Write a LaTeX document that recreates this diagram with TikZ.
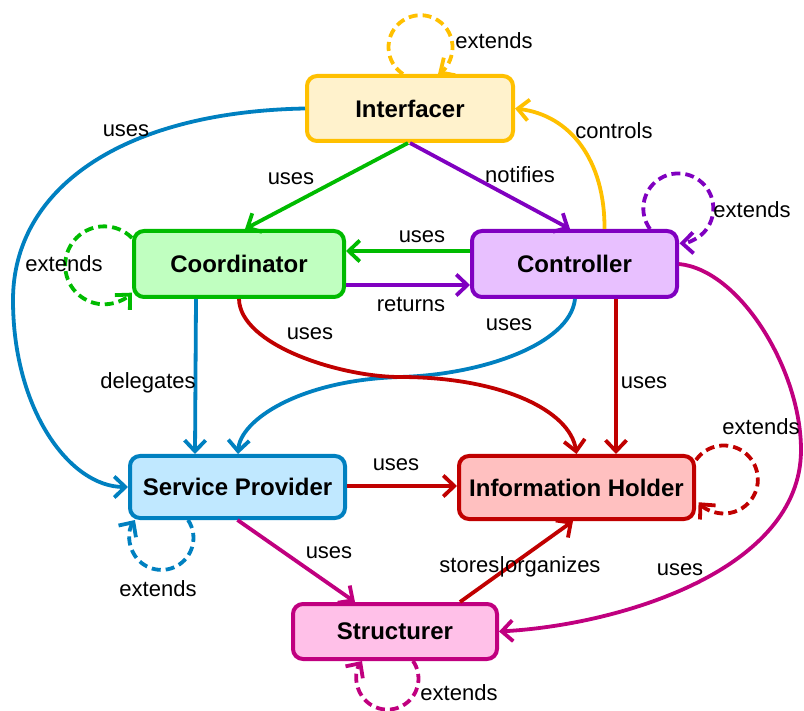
\documentclass[tikz,border=0pt]{standalone}
\usepackage{fontspec}
\setmainfont{Liberation Sans}
\usetikzlibrary{arrows.meta,calc}

\definecolor{goldE}{HTML}{FFC000}\definecolor{goldF}{HTML}{FFF2CC}
\definecolor{greenE}{HTML}{00BB00}\definecolor{greenF}{HTML}{C0FFC0}
\definecolor{purpE}{HTML}{8000C0}\definecolor{purpF}{HTML}{E8C0FF}
\definecolor{blueE}{HTML}{0080C0}\definecolor{blueF}{HTML}{C0E8FF}
\definecolor{redE}{HTML}{C00000}\definecolor{redF}{HTML}{FFC0C0}
\definecolor{magE}{HTML}{C0007F}\definecolor{magF}{HTML}{FFC0E8}

\begin{document}
\begin{tikzpicture}[x=1pt,y=1pt,
  role/.style={draw, line width=4pt, rounded corners=10pt, inner sep=0pt,
    font=\fontsize{24}{28}\selectfont\bfseries},
  rel/.style={line width=3.8pt,
    -{Straight Barb[length=11pt,width=21pt,line width=3.8pt]}},
  ext/.style={rel, dash pattern=on 9pt off 5pt},
  lbl/.style={font=\fontsize{22}{26}\selectfont, inner sep=0pt}]
\useasboundingbox (0,0) rectangle (804,-711);

% roles
\node[role, draw=goldE,  fill=goldF,  minimum width=206pt, minimum height=65pt] (I)  at (410,-108.5) {Interfacer};
\node[role, draw=greenE, fill=greenF, minimum width=210pt, minimum height=66pt] (Co) at (239,-264) {Coordinator};
\node[role, draw=purpE,  fill=purpF,  minimum width=205pt, minimum height=66pt] (Ct) at (574.5,-264) {Controller};
\node[role, draw=blueE,  fill=blueF,  minimum width=215pt, minimum height=62pt] (SP) at (237.5,-487) {Service Provider};
\node[role, draw=redE,   fill=redF,   minimum width=235pt, minimum height=63pt] (IH) at (576.5,-487.5) {Information Holder};
\node[role, draw=magE,   fill=magF,   minimum width=204pt, minimum height=55pt] (St) at (395,-631.5) {Structurer};

% relations
\draw[rel,greenE] ($(I.south)+(-2,0)$) -- ($(Co.north)+(6,0)$);
\draw[rel,purpE] (I.south) -- ($(Ct.north)+(-4.5,0)$);
\draw[rel,goldE] ($(Ct.north)+(30,0)$) .. controls (605,-160) and (570,-115) .. (I.east);
\draw[rel,greenE] ($(Ct.west)+(0,13)$) -- ($(Co.east)+(0,13)$);
\draw[rel,purpE] ($(Co.east)+(0,-21)$) -- ($(Ct.west)+(0,-21)$);
\draw[rel,blueE] (I.west) .. controls (120,-112) and (13,-190) .. (13,-300)
  .. controls (13,-410) and (70,-487) .. (SP.west);
\draw[rel,blueE] ($(Co.south)+(-43,0)$) -- ($(SP.north)+(-42.5,0)$);
\draw[rel,blueE] ($(Ct.south)+(0.5,0)$) .. controls (570,-345) and (480,-375) .. (400,-377)
  .. controls (300,-380) and (240,-420) .. ($(SP.north)+(0.5,0)$);
\draw[rel,redE] (Co.south) .. controls (240,-345) and (340,-377) .. (400,-377)
  .. controls (500,-377) and (570,-410) .. (IH.north);
\draw[rel,redE] ($(Ct.south)+(41.5,0)$) -- ($(IH.north)+(39.5,0)$);
\draw[rel,redE] ($(SP.east)+(0,1)$) -- ($(IH.west)+(0,1.5)$);
\draw[rel,magE] (SP.south) -- ($(St.north)+(-40,0)$);
\draw[rel,redE] ($(St.north)+(65,0)$) -- ($(IH.south)+(-3.5,0)$);
\draw[rel,magE] (Ct.east) .. controls (740,-270) and (801,-370) .. (801,-450)
  .. controls (801,-570) and (620,-625) .. (St.east);

% self extensions
\draw[ext,goldE]  ($(I.north)+(-7,0)$) arc[start angle=236.8, end angle=-56.8, radius=32];
\draw[ext,greenE] ($(Co.west)+(0,26)$) arc[start angle=44.5, end angle=315.5, radius=39];
\draw[ext,purpE]  ($(Ct.north)+(75.5,0)$) arc[start angle=216, end angle=-88, radius=35];
\draw[ext,blueE]  ($(SP.south)+(-49.5,0)$) arc[start angle=34, end angle=-214, radius=32];
\draw[ext,redE]   ($(IH.east)+(0,27.5)$) arc[start angle=145, end angle=-138, radius=34];
\draw[ext,magE]   ($(St.south)+(18,0)$) arc[start angle=34.6, end angle=-214.6, radius=31];

% relation labels
\node[lbl] (l1)  at (291,-179) {uses};
\node[lbl] (l2)  at (520,-175) {notifies};
\node[lbl] (l3)  at (614,-131) {controls};
\node[lbl] (l4)  at (422,-237) {uses};
\node[lbl] (l5)  at (411,-304) {returns};
\node[lbl] (l6)  at (126,-131) {uses};
\node[lbl] (l7)  at (148,-383) {delegates};
\node[lbl] (l8)  at (509,-325) {uses};
\node[lbl] (l9)  at (310,-334) {uses};
\node[lbl] (l10) at (644,-383) {uses};
\node[lbl] (l11) at (396,-465) {uses};
\node[lbl] (l12) at (329,-553) {uses};
\node[lbl] (l13) at (520,-567) {stores|organizes};
\node[lbl] (l14) at (680,-570) {uses};
\node[lbl] (e1)  at (494,-41)  {extends};
\node[lbl] (e2)  at (64,-264)  {extends};
\node[lbl] (e3)  at (752,-210) {extends};
\node[lbl] (e4)  at (158,-589) {extends};
\node[lbl] (e5)  at (761,-427) {extends};
\node[lbl] (e6)  at (459,-693) {extends};
\end{tikzpicture}
\end{document}
